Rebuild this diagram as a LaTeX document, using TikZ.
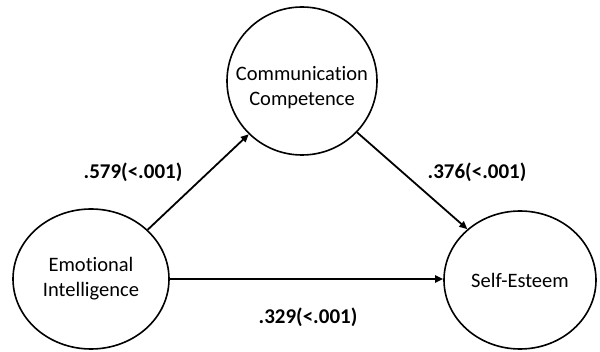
\documentclass[tikz,border=0pt]{standalone}
\usepackage{fontspec}
\setmainfont[Ligatures={NoCommon}]{Carlito}
\usetikzlibrary{shapes.geometric,arrows.meta}
\begin{document}
\begin{tikzpicture}[x=1pt,y=1pt,
  var/.style={ellipse,draw,line width=1.6pt,inner sep=0pt,align=center,
    font=\fontsize{20.5}{25}\selectfont},
  arr/.style={line width=1.8pt,-{Triangle[length=8pt,width=7pt]}},
  coef/.style={font=\fontsize{21}{24}\selectfont\bfseries,inner sep=0pt}]
\useasboundingbox (0,0) rectangle (600,351);
\node[var,minimum width=156pt,minimum height=140pt] (EI) at (91,72) {Emotional\\Intelligence};
\node[var,minimum width=150pt,minimum height=148pt,
  label={[name=CCtext,align=center,yshift=-7pt,font=\fontsize{20.5}{25}\selectfont]center:Communication\\Competence}] (CC) at (302,270) {};
\node[var,minimum width=152pt,minimum height=138pt] (SE) at (520,71) {Self-Esteem};
\draw[arr] (EI.41) -- (CC.225);
\draw[arr] (CC.317) -- (SE.136);
\draw[arr] (EI.east) -- (SE.west |- EI.east);
\node[coef] (l1) at (133,179) {.579(<.001)};
\node[coef] (l2) at (477,179) {.376(<.001)};
\node[coef] (l3) at (308,34) {.329(<.001)};
\end{tikzpicture}
\end{document}
